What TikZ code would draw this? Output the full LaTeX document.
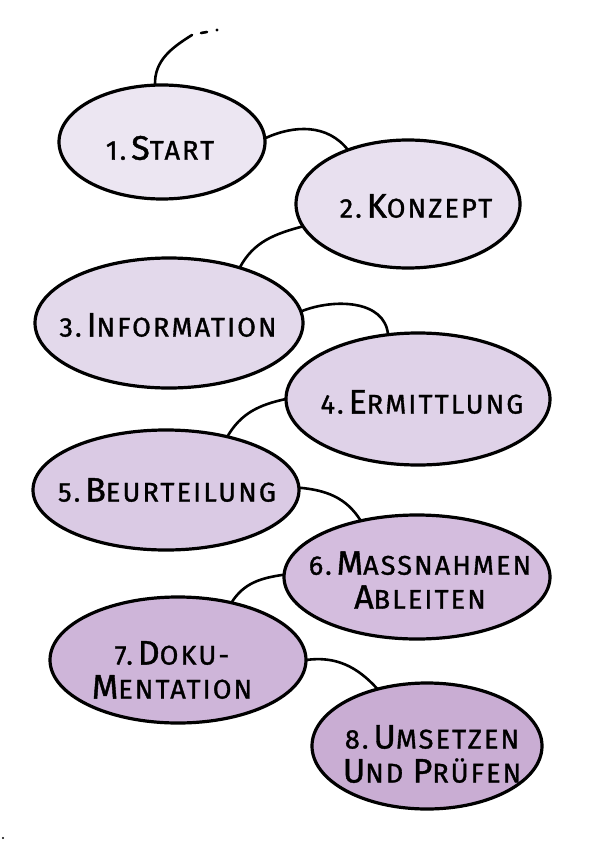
\documentclass[tikz,border=0pt]{standalone}
\usepackage{fontspec}
\setmainfont{Fira Sans}[LetterSpace=8, FakeBold=1.2]
\usetikzlibrary{shapes.geometric}
\definecolor{c1}{RGB}{236,230,242}
\definecolor{c2}{RGB}{232,224,239}
\definecolor{c3}{RGB}{227,217,235}
\definecolor{c4}{RGB}{223,210,232}
\definecolor{c5}{RGB}{218,202,228}
\definecolor{c6}{RGB}{212,189,222}
\definecolor{c7}{RGB}{206,181,217}
\definecolor{c8}{RGB}{201,173,211}
\newcommand\Ini[1]{{\fontsize{34}{34}\selectfont #1}}
\newcommand\Gap{\hspace{5pt}}
\tikzset{
  bub/.style={ellipse, draw=black, line width=3.2pt, inner sep=0pt, outer sep=0pt},
  lab/.style={font=\fontsize{27}{34}\selectfont, text=black, align=center, inner sep=0pt},
  link/.style={draw=black, line width=2.6pt, line cap=round}
}
\begin{document}
\begin{tikzpicture}[x=1pt,y=1pt]
\useasboundingbox (0,0) rectangle (597,-842);
\fill[white] (0,0) rectangle (597,-842);
% bubbles
\node[bub, fill=c1, minimum width=206pt, minimum height=114pt] (e1) at (162,-142) {};
\node[bub, fill=c2, minimum width=224pt, minimum height=128pt] (e2) at (408,-204) {};
\node[bub, fill=c3, minimum width=268pt, minimum height=130pt] (e3) at (169,-323) {};
\node[bub, fill=c4, minimum width=264pt, minimum height=132pt] (e4) at (418,-399) {};
\node[bub, fill=c5, minimum width=266pt, minimum height=120pt] (e5) at (166,-490) {};
\node[bub, fill=c6, minimum width=266pt, minimum height=124pt] (e6) at (417,-577) {};
\node[bub, fill=c7, minimum width=256pt, minimum height=126pt] (e7) at (178,-660) {};
\node[bub, fill=c8, minimum width=230pt, minimum height=126pt] (e8) at (427,-746) {};
% labels
\node[lab] (t1) at (160,-148) {1.\Gap\Ini{S}TART};
\node[lab] (t2) at (416,-206) {2.\Gap\Ini{K}ONZEPT};
\node[lab] (t3) at (168,-325) {3.\Gap\Ini{I}NFORMATION};
\node[lab] (t4) at (422,-402) {4.\Gap\Ini{E}RMITTLUNG};
\node[lab] (t5) at (167,-490) {5.\Gap\Ini{B}EURTEILUNG};
\node[lab] (t6) at (420,-580) {6.\Gap\Ini{M}ASSNAHMEN\\\Ini{A}BLEITEN};
\node[lab] (t7) at (172,-670) {7.\Gap\Ini{D}OKU-\\\Ini{M}ENTATION};
\node[lab] (t8) at (432,-754) {8.\Gap\Ini{U}MSETZEN\\\Ini{U}ND \Ini{P}RÜFEN};
% connectors
\coordinate (tip) at (192,-35);
\draw[link] (e1.97) to[out=92, in=212] (tip);
\coordinate (d1) at (201,-33);
\coordinate (d2) at (207,-32);
\draw[link] (d1) -- (d2);
\fill (217,-30) circle (1.6pt);
\draw[link] (e1.2) to[out=25, in=128] (e2.138);
\draw[link] (e2.192) to[out=195, in=62] (e3.38);
\draw[link] (e3.5) to[out=22, in=95] (e4.115);
\draw[link] (e4.180) to[out=192, in=60] (e5.41);
\draw[link] (e5.1) to[out=-5, in=122] (e6.135);
\draw[link] (e6.179) to[out=188, in=58] (e7.47);
\draw[link] (e7.0) to[out=8, in=132] (e8.131);
\fill (3,-838) circle (1.2pt);
\end{tikzpicture}
\end{document}
